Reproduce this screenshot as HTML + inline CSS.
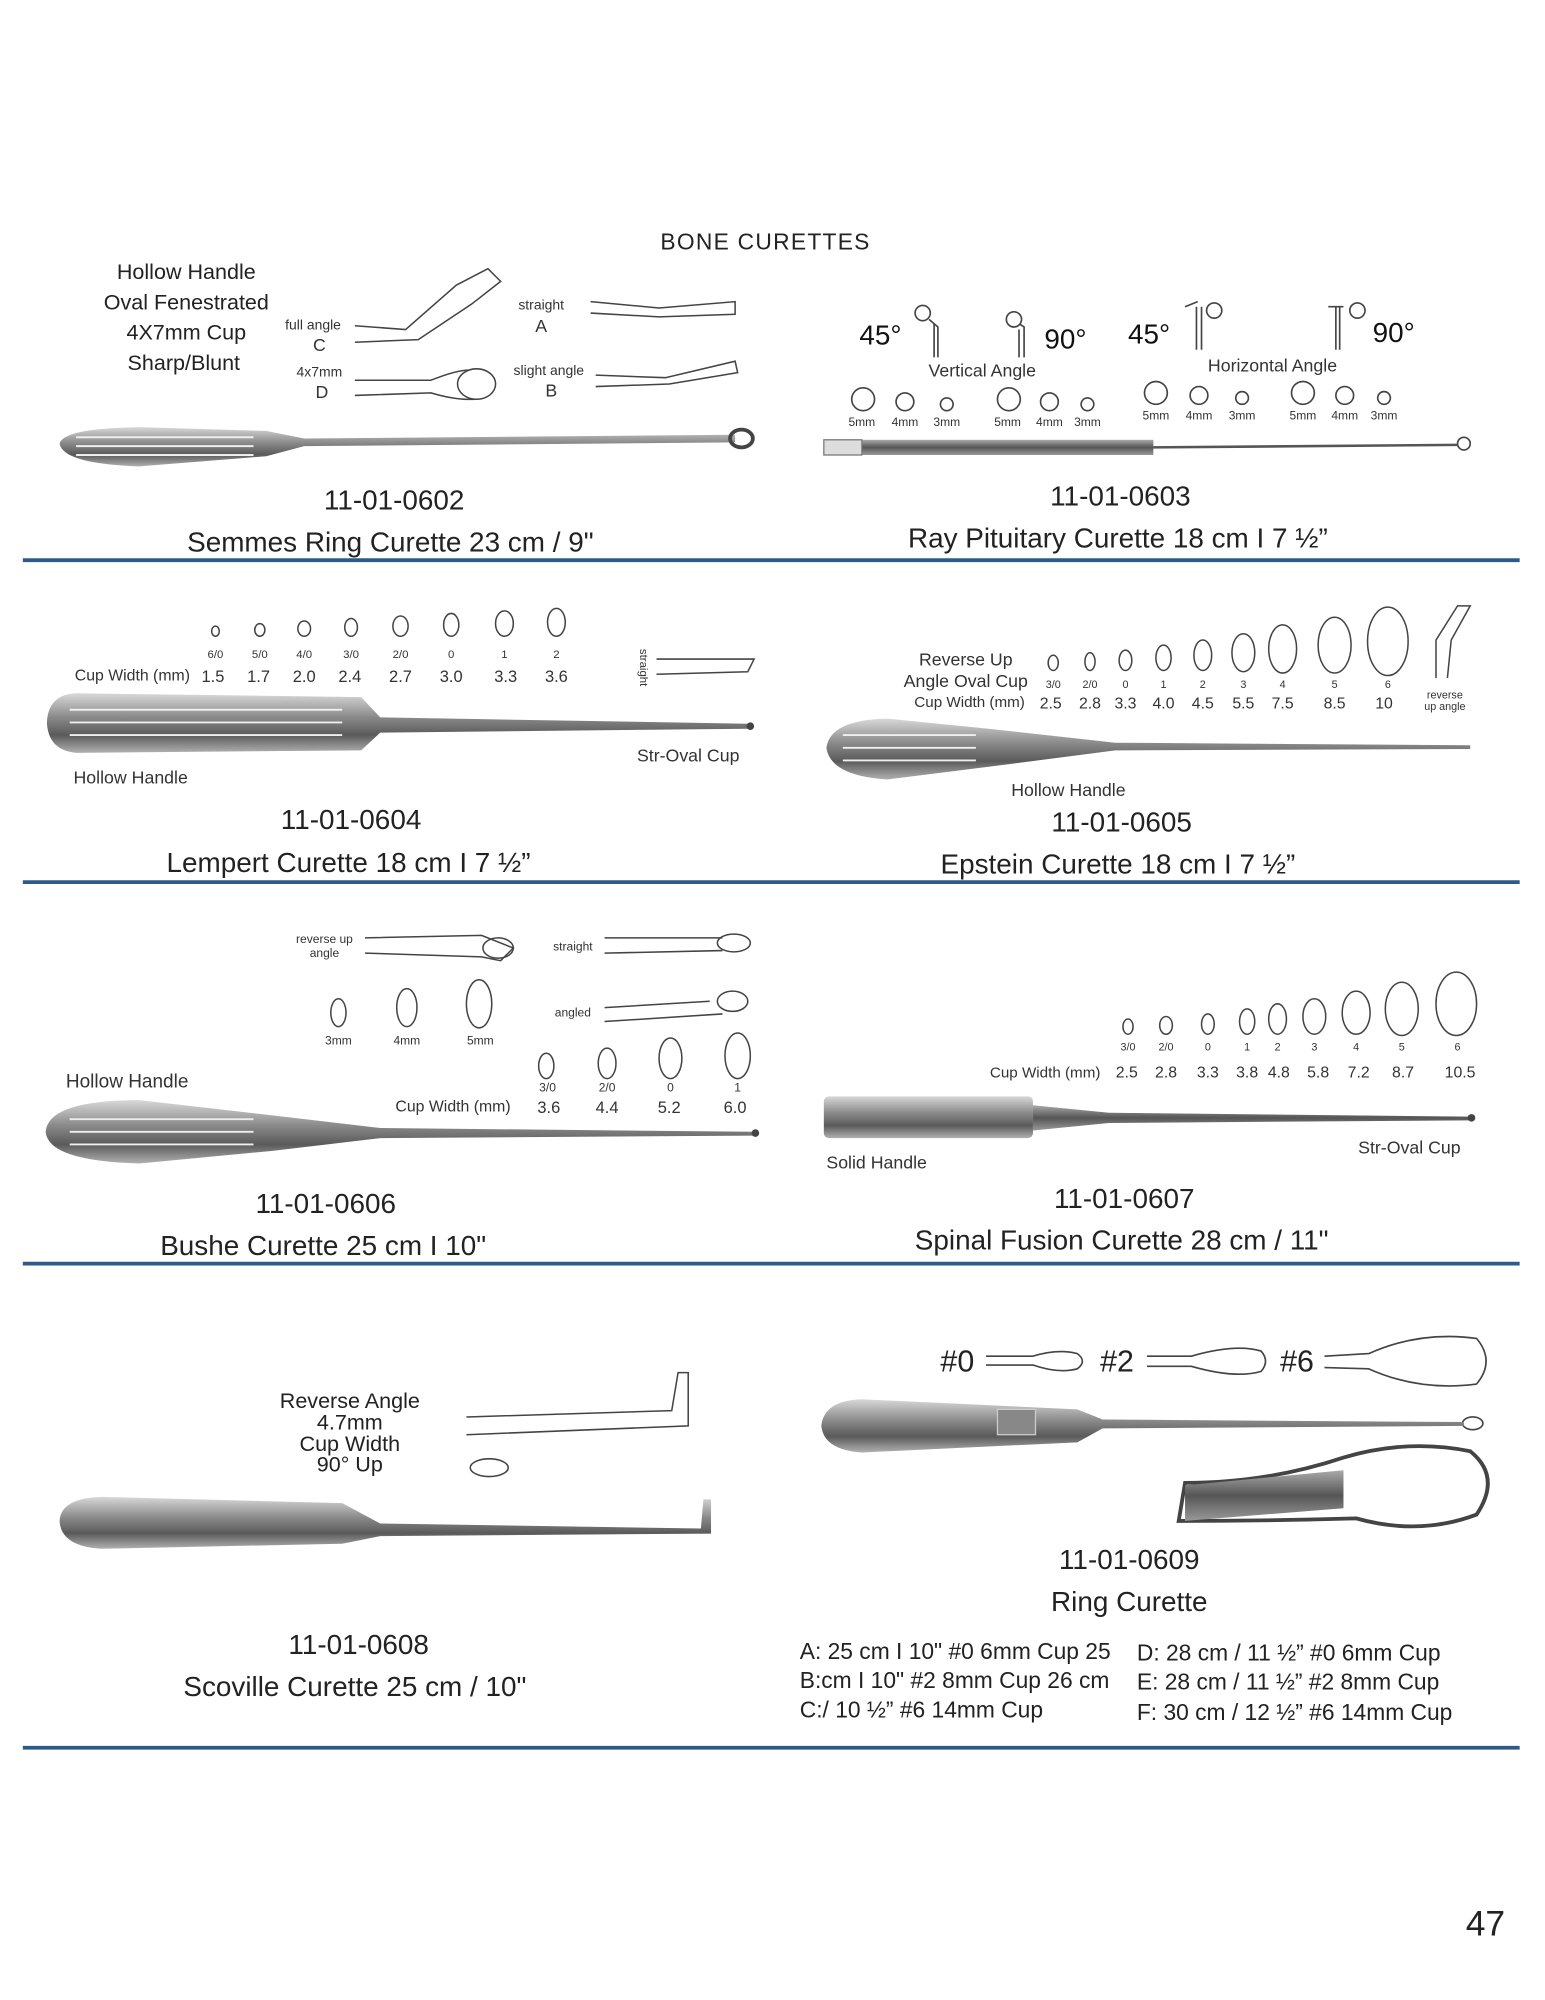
<!DOCTYPE html>
<html><head><meta charset="utf-8"><style>
html,body{margin:0;padding:0;background:#fff;}
svg{display:block}
.n{font-family:"Liberation Sans Narrow","Liberation Sans",sans-serif;fill:#222}
.s{font-family:"Liberation Sans",sans-serif;fill:#333}
.t{font-size:11px}
.m{font-size:14px}
.h{font-size:22px}
</style></head><body>
<svg width="1545" height="2000" viewBox="0 0 1219 1578" xmlns="http://www.w3.org/2000/svg">
<defs>
<linearGradient id="g" x1="0" y1="0" x2="0" y2="1">
<stop offset="0" stop-color="#d8d8d8"/><stop offset="0.4" stop-color="#8a8a8a"/><stop offset="0.7" stop-color="#5a5a5a"/><stop offset="1" stop-color="#b0b0b0"/></linearGradient>
<linearGradient id="r" x1="0" y1="0" x2="0" y2="1">
<stop offset="0" stop-color="#aaa"/><stop offset="0.5" stop-color="#555"/><stop offset="1" stop-color="#999"/></linearGradient>
</defs>
<rect width="1219" height="1578" fill="#fff"/>
<text x="604" y="197" text-anchor="middle" class="s" style="font-size:18px;letter-spacing:1px;fill:#222">BONE CURETTES</text>
<g fill="none" stroke="#2d5a88" stroke-width="3">
<line x1="18" y1="442" x2="1199" y2="442"/><line x1="18" y1="696" x2="1199" y2="696"/>
<line x1="18" y1="997" x2="1199" y2="997"/><line x1="18" y1="1379" x2="1199" y2="1379"/></g>

<!-- Row 1 left -->
<g class="n" style="font-size:17px" text-anchor="middle">
<text x="147" y="220">Hollow Handle</text><text x="147" y="244">Oval Fenestrated</text>
<text x="147" y="268">4X7mm Cup</text><text x="145" y="292">Sharp/Blunt</text></g>
<g class="s" text-anchor="middle"><text x="247" y="260" class="t">full angle</text><text x="252" y="277" class="m">C</text>
<text x="252" y="297" class="t">4x7mm</text><text x="254" y="314" class="m">D</text>
<text x="427" y="244" class="t">straight</text><text x="427" y="262" class="m">A</text>
<text x="433" y="296" class="t">slight angle</text><text x="435" y="313" class="m">B</text></g>
<g fill="none" stroke="#444" stroke-width="1.2">
<path d="M280 257 L320 260 L360 225 L385 212 L395 222 L372 240 L330 268 L280 270"/>
<path d="M466 238 L520 243 L580 238 L580 248 L520 250 L466 247"/>
<path d="M280 300 L340 300 Q360 292 370 292 M280 312 L340 310 Q360 316 375 315"/>
<ellipse cx="376" cy="303" rx="15" ry="12"/>
<path d="M470 296 L525 298 L580 285 L582 294 L528 303 L470 305"/></g>
<path d="M47 350 Q50 338 110 337 L210 340 L240 346 L580 343 L580 349 L240 352 L210 360 L110 368 Q50 366 47 350Z" fill="url(#g)"/>
<g stroke="#eee" stroke-width="1.5"><line x1="60" y1="345" x2="200" y2="345"/><line x1="60" y1="352" x2="200" y2="352"/><line x1="60" y1="359" x2="200" y2="359"/></g>
<ellipse cx="585" cy="346" rx="9" ry="7" fill="none" stroke="#444" stroke-width="3"/>
<text x="311" y="402" text-anchor="middle" class="n h">11-01-0602</text>
<text x="308" y="435" text-anchor="middle" class="n h">Semmes Ring Curette 23 cm / 9"</text>

<!-- Row 1 right -->
<g class="s" style="font-size:22px;fill:#111"><text x="678" y="272">45°</text><text x="824" y="275">90°</text><text x="890" y="271">45°</text><text x="1083" y="270">90°</text></g>
<g fill="none" stroke="#444" stroke-width="1.3">
<circle cx="728" cy="247" r="6"/><path d="M733 252 L740 258 L740 282 M737 255 L737 282"/>
<circle cx="800" cy="252" r="6"/><path d="M805 256 L808 258 L808 282 M804 260 L804 282"/>
<path d="M935 242 L945 238 M944 242 L944 276 M948 242 L948 276"/><circle cx="958" cy="245" r="6"/>
<path d="M1048 242 L1060 242 M1054 242 L1054 276 M1057 242 L1057 276"/><circle cx="1071" cy="245" r="6"/>
<circle cx="681" cy="315" r="9"/><circle cx="714" cy="317" r="7"/><circle cx="747" cy="319" r="5"/>
<circle cx="796" cy="315" r="9"/><circle cx="828" cy="317" r="7"/><circle cx="858" cy="319" r="5"/>
<circle cx="912" cy="310" r="9"/><circle cx="946" cy="312" r="7"/><circle cx="980" cy="314" r="5"/>
<circle cx="1028" cy="310" r="9"/><circle cx="1061" cy="312" r="7"/><circle cx="1092" cy="314" r="5"/>
<circle cx="1155" cy="350" r="5"/></g>
<g class="s m" text-anchor="middle"><text x="775" y="297">Vertical Angle</text><text x="1004" y="293">Horizontal Angle</text></g>
<g class="s" style="font-size:9.5px" text-anchor="middle">
<text x="680" y="336">5mm</text><text x="714" y="336">4mm</text><text x="747" y="336">3mm</text>
<text x="795" y="336">5mm</text><text x="828" y="336">4mm</text><text x="858" y="336">3mm</text>
<text x="912" y="331">5mm</text><text x="946" y="331">4mm</text><text x="980" y="331">3mm</text>
<text x="1028" y="331">5mm</text><text x="1061" y="331">4mm</text><text x="1092" y="331">3mm</text></g>
<rect x="650" y="347" width="260" height="12" fill="url(#r)"/><rect x="650" y="347" width="30" height="12" fill="#ddd" stroke="#777"/>
<line x1="910" y1="353" x2="1150" y2="351" stroke="#555" stroke-width="2"/>
<text x="884" y="399" text-anchor="middle" class="n h">11-01-0603</text>
<text x="882" y="432" text-anchor="middle" class="n h">Ray Pituitary Curette 18 cm I 7 ½”</text>

<!-- Row 2 left -->
<g fill="none" stroke="#444" stroke-width="1.2">
<ellipse cx="170" cy="498" rx="3" ry="4"/><ellipse cx="205" cy="497" rx="4" ry="5"/><ellipse cx="240" cy="496" rx="5" ry="6"/>
<ellipse cx="277" cy="495" rx="5" ry="7"/><ellipse cx="316" cy="494" rx="6" ry="8"/><ellipse cx="356" cy="493" rx="6" ry="9"/>
<ellipse cx="398" cy="492" rx="7" ry="10"/><ellipse cx="439" cy="491" rx="7" ry="11"/>
<path d="M518 520 L595 520 L590 530 L518 532"/></g>
<g class="s" text-anchor="middle" style="font-size:9px">
<text x="170" y="519">6/0</text><text x="205" y="519">5/0</text><text x="240" y="519">4/0</text><text x="277" y="519">3/0</text>
<text x="316" y="519">2/0</text><text x="356" y="519">0</text><text x="398" y="519">1</text><text x="439" y="519">2</text></g>
<g class="s" text-anchor="middle" style="font-size:13px">
<text x="168" y="538">1.5</text><text x="204" y="538">1.7</text><text x="240" y="538">2.0</text><text x="276" y="538">2.4</text>
<text x="316" y="538">2.7</text><text x="356" y="538">3.0</text><text x="399" y="538">3.3</text><text x="439" y="538">3.6</text></g>
<text x="59" y="537" class="s" style="font-size:12.5px">Cup Width (mm)</text>
<text x="505" y="512" class="s" style="font-size:9px" transform="rotate(90 505 512)">straight</text>
<path d="M37 570 Q38 548 60 547 L285 550 L300 566 L590 571 L590 575 L300 578 L285 592 L60 594 Q38 592 37 570Z" fill="url(#g)"/>
<g stroke="#eee" stroke-width="1.5"><line x1="55" y1="560" x2="270" y2="560"/><line x1="55" y1="570" x2="270" y2="570"/><line x1="55" y1="580" x2="270" y2="580"/></g>
<circle cx="592" cy="573" r="3" fill="#444"/>
<text x="58" y="618" class="s m">Hollow Handle</text><text x="543" y="601" text-anchor="middle" class="s m">Str-Oval Cup</text>
<text x="277" y="654" text-anchor="middle" class="n h">11-01-0604</text>
<text x="275" y="688" text-anchor="middle" class="n h">Lempert Curette 18 cm I 7 ½”</text>

<!-- Row 2 right -->
<g fill="none" stroke="#444" stroke-width="1.2">
<ellipse cx="831" cy="523" rx="4" ry="6"/><ellipse cx="860" cy="522" rx="4" ry="7"/><ellipse cx="888" cy="521" rx="5" ry="8"/>
<ellipse cx="918" cy="519" rx="6" ry="10"/><ellipse cx="949" cy="517" rx="7" ry="12"/><ellipse cx="981" cy="515" rx="9" ry="15"/>
<ellipse cx="1012" cy="512" rx="11" ry="19"/><ellipse cx="1053" cy="509" rx="13" ry="22"/><ellipse cx="1095" cy="506" rx="16" ry="27"/>
<path d="M1133 535 L1133 505 L1150 478 L1160 478 L1145 505 L1142 535"/></g>
<g class="s" text-anchor="middle" style="font-size:8.5px">
<text x="831" y="543">3/0</text><text x="860" y="543">2/0</text><text x="888" y="543">0</text><text x="918" y="543">1</text>
<text x="949" y="543">2</text><text x="981" y="543">3</text><text x="1012" y="543">4</text><text x="1053" y="543">5</text><text x="1095" y="543">6</text>
<text x="1140" y="551">reverse</text><text x="1140" y="560">up angle</text></g>
<g class="s" text-anchor="middle" style="font-size:12.5px">
<text x="829" y="559">2.5</text><text x="860" y="559">2.8</text><text x="888" y="559">3.3</text><text x="918" y="559">4.0</text>
<text x="949" y="559">4.5</text><text x="981" y="559">5.5</text><text x="1012" y="559">7.5</text><text x="1053" y="559">8.5</text><text x="1092" y="559">10</text></g>
<g class="s" text-anchor="middle"><text x="762" y="525" class="m">Reverse Up</text><text x="762" y="542" class="m">Angle Oval Cup</text>
<text x="765" y="558" style="font-size:12px">Cup Width (mm)</text></g>
<path d="M652 590 Q655 568 700 567 L780 575 L880 586 L1160 588 L1160 591 L880 592 L780 605 L700 615 Q655 612 652 590Z" fill="url(#g)"/>
<g stroke="#eee" stroke-width="1.5"><line x1="665" y1="580" x2="770" y2="580"/><line x1="665" y1="590" x2="770" y2="590"/><line x1="665" y1="600" x2="770" y2="600"/></g>
<text x="843" y="628" text-anchor="middle" class="s m">Hollow Handle</text>
<text x="885" y="656" text-anchor="middle" class="n h">11-01-0605</text>
<text x="882" y="689" text-anchor="middle" class="n h">Epstein Curette 18 cm I 7 ½”</text>

<!-- Row 3 left -->
<g fill="none" stroke="#444" stroke-width="1.2">
<path d="M288 740 L380 738 L405 748 L395 758 L380 755 L288 752"/><ellipse cx="393" cy="748" rx="12" ry="8"/>
<path d="M477 740 L570 740 M477 752 L570 750"/><ellipse cx="579" cy="744" rx="13" ry="7"/>
<path d="M477 795 L560 790 M477 806 L570 800"/><ellipse cx="578" cy="790" rx="12" ry="8"/>
<ellipse cx="267" cy="799" rx="6" ry="11"/><ellipse cx="321" cy="795" rx="8" ry="15"/><ellipse cx="378" cy="792" rx="10" ry="19"/>
<ellipse cx="431" cy="841" rx="6" ry="10"/><ellipse cx="479" cy="839" rx="7" ry="12"/><ellipse cx="529" cy="835" rx="9" ry="16"/><ellipse cx="582" cy="833" rx="10" ry="18"/></g>
<g class="s" text-anchor="middle" style="font-size:9.5px"><text x="256" y="744">reverse up</text><text x="256" y="755">angle</text>
<text x="452" y="750">straight</text><text x="452" y="802">angled</text>
<text x="267" y="824">3mm</text><text x="321" y="824">4mm</text><text x="379" y="824">5mm</text>
<text x="432" y="861">3/0</text><text x="479" y="861">2/0</text><text x="529" y="861">0</text><text x="582" y="861">1</text></g>
<g class="s" text-anchor="middle" style="font-size:13px"><text x="433" y="878">3.6</text><text x="479" y="878">4.4</text><text x="528" y="878">5.2</text><text x="580" y="878">6.0</text></g>
<text x="312" y="877" class="s" style="font-size:12.5px">Cup Width (mm)</text>
<text x="52" y="858" class="s" style="font-size:15px">Hollow Handle</text>
<path d="M36 893 Q38 868 110 868 L215 880 L300 890 L595 893 L595 896 L300 898 L215 908 L110 918 Q38 916 36 893Z" fill="url(#g)"/>
<g stroke="#eee" stroke-width="1.5"><line x1="55" y1="883" x2="200" y2="883"/><line x1="55" y1="893" x2="200" y2="893"/><line x1="55" y1="903" x2="200" y2="903"/></g>
<circle cx="596" cy="894" r="3" fill="#444"/>
<text x="257" y="957" text-anchor="middle" class="n h">11-01-0606</text>
<text x="255" y="990" text-anchor="middle" class="n h">Bushe Curette 25 cm I 10"</text>

<!-- Row 3 right -->
<g fill="none" stroke="#444" stroke-width="1.2">
<ellipse cx="890" cy="810" rx="4" ry="6"/><ellipse cx="920" cy="809" rx="5" ry="7"/><ellipse cx="953" cy="808" rx="5" ry="8"/>
<ellipse cx="984" cy="806" rx="6" ry="10"/><ellipse cx="1008" cy="804" rx="7" ry="12"/><ellipse cx="1037" cy="802" rx="9" ry="14"/>
<ellipse cx="1070" cy="799" rx="11" ry="17"/><ellipse cx="1106" cy="796" rx="13" ry="21"/><ellipse cx="1149" cy="792" rx="16" ry="25"/></g>
<g class="s" text-anchor="middle" style="font-size:8.5px">
<text x="890" y="829">3/0</text><text x="920" y="829">2/0</text><text x="953" y="829">0</text><text x="984" y="829">1</text>
<text x="1008" y="829">2</text><text x="1037" y="829">3</text><text x="1070" y="829">4</text><text x="1106" y="829">5</text><text x="1150" y="829">6</text></g>
<g class="s" text-anchor="middle" style="font-size:12.5px">
<text x="889" y="850">2.5</text><text x="920" y="850">2.8</text><text x="953" y="850">3.3</text><text x="984" y="850">3.8</text>
<text x="1009" y="850">4.8</text><text x="1040" y="850">5.8</text><text x="1072" y="850">7.2</text><text x="1107" y="850">8.7</text><text x="1152" y="850">10.5</text></g>
<text x="781" y="850" class="s" style="font-size:12px">Cup Width (mm)</text>
<rect x="650" y="865" width="165" height="33" rx="4" fill="url(#g)"/>
<path d="M815 872 L875 878 L1160 881 L1160 884 L875 886 L815 892Z" fill="url(#r)"/>
<circle cx="1161" cy="882" r="3" fill="#444"/>
<text x="652" y="922" class="s m">Solid Handle</text><text x="1112" y="910" text-anchor="middle" class="s m">Str-Oval Cup</text>
<text x="887" y="953" text-anchor="middle" class="n h">11-01-0607</text>
<text x="885" y="986" text-anchor="middle" class="n h">Spinal Fusion Curette 28 cm / 11"</text>

<!-- Row 4 left -->
<g class="s" text-anchor="middle" style="font-size:17px;fill:#222"><text x="276" y="1111">Reverse Angle</text><text x="276" y="1128">4.7mm</text>
<text x="276" y="1145">Cup Width</text><text x="276" y="1161">90° Up</text></g>
<g fill="none" stroke="#444" stroke-width="1.2">
<path d="M368 1118 L530 1113 L535 1083 L543 1083 L543 1125 L368 1132"/><ellipse cx="386" cy="1158" rx="15" ry="7"/></g>
<path d="M47 1200 Q48 1182 80 1181 L270 1186 L300 1202 L553 1206 L555 1183 L561 1183 L561 1210 L300 1212 L270 1218 L80 1222 Q48 1220 47 1200Z" fill="url(#g)"/>
<text x="283" y="1305" text-anchor="middle" class="n h">11-01-0608</text>
<text x="280" y="1338" text-anchor="middle" class="n h">Scoville Curette 25 cm / 10"</text>

<!-- Row 4 right -->
<g class="s" style="font-size:24px;fill:#222"><text x="742" y="1082">#0</text><text x="868" y="1082">#2</text><text x="1010" y="1082">#6</text></g>
<g fill="none" stroke="#444" stroke-width="1.3">
<path d="M778 1070 L815 1070 Q835 1064 850 1068 Q858 1074 850 1080 Q835 1084 815 1077 L778 1077"/>
<path d="M905 1070 L940 1070 Q975 1060 995 1066 Q1002 1074 995 1082 Q975 1088 940 1078 L905 1078"/>
<path d="M1045 1070 L1080 1068 Q1120 1050 1165 1056 Q1180 1074 1165 1092 Q1120 1098 1080 1080 L1045 1079"/>
<ellipse cx="1162" cy="1123" rx="8" ry="5"/>
<path d="M930 1200 L935 1170 Q1000 1170 1060 1150 Q1110 1135 1160 1145 Q1185 1165 1165 1195 Q1120 1212 1070 1198 Q1000 1200 930 1200Z" stroke-width="3"/></g>
<path d="M648 1125 Q650 1105 680 1104 L850 1112 L870 1120 L1155 1122 L1155 1125 L870 1127 L850 1138 L680 1146 Q650 1144 648 1125Z" fill="url(#g)"/>
<rect x="787" y="1112" width="30" height="20" fill="#888" stroke="#ccc"/>
<path d="M935 1172 L1060 1160 L1060 1190 L935 1200Z" fill="url(#r)"/>
<text x="891" y="1238" text-anchor="middle" class="n h">11-01-0609</text>
<text x="891" y="1271" text-anchor="middle" class="n h">Ring Curette</text>
<g class="n" style="font-size:18px">
<text x="631" y="1309">A:  25 cm I 10" #0 6mm Cup 25</text><text x="631" y="1332">B:cm I 10" #2 8mm Cup 26 cm</text><text x="631" y="1355">C:/ 10 ½” #6 14mm Cup</text>
<text x="897" y="1310">D: 28 cm / 11 ½” #0 6mm Cup</text><text x="897" y="1333">E: 28 cm / 11 ½” #2 8mm Cup</text><text x="897" y="1357">F: 30 cm / 12 ½” #6 14mm Cup</text></g>

<text x="1172" y="1527" text-anchor="middle" class="s" style="font-size:28px;fill:#222">47</text>
</svg>
</body></html>
